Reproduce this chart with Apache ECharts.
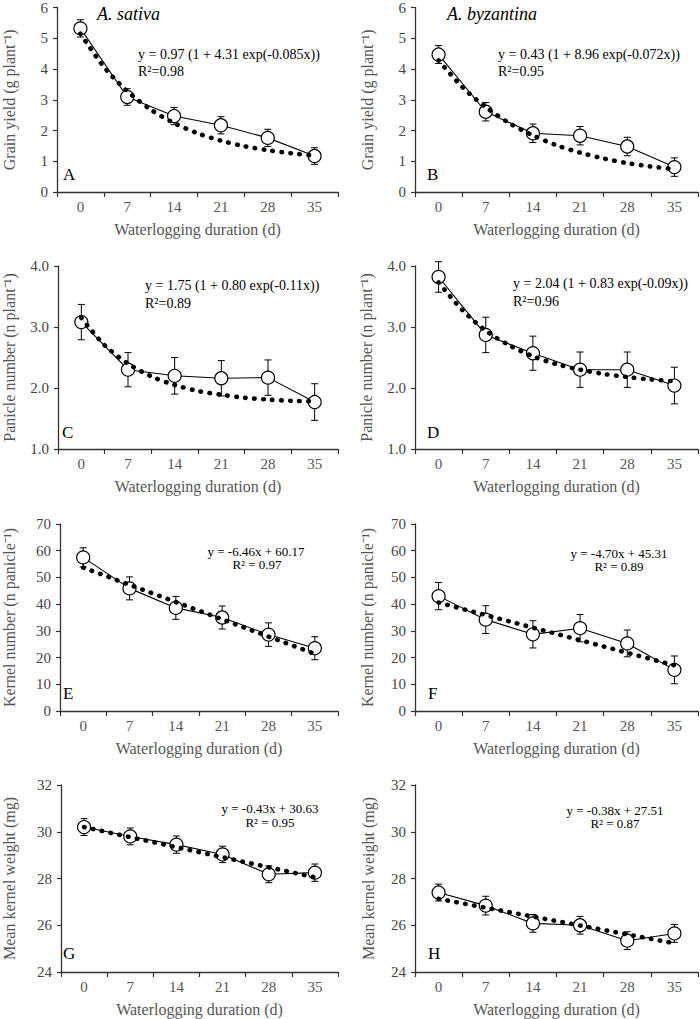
<!DOCTYPE html>
<html>
<head>
<meta charset="utf-8">
<script src="https://cdn.jsdelivr.net/npm/echarts@6/dist/echarts.min.js"></script>
<style>
html,body{margin:0;padding:0;background:#fff;}
#chart{width:700px;height:1019px;}
</style>
</head>
<body>
<div id="chart"></div>
<script>
// ---------- data ----------
const days = [0, 7, 14, 21, 28, 35];
const dayLabels = ['0', '7', '14', '21', '28', '35'];
const fitX = [0, 3.5, 7, 10.5, 14, 17.5, 21, 24.5, 28, 31.5, 35];
const linFitX = [0, 35];

const grainSativa = [5.32, 3.09, 2.47, 2.17, 1.76, 1.17];
const grainSativaErr = [0.28, 0.27, 0.28, 0.28, 0.28, 0.27];
const grainSativaFit = [5.15, 4.07, 3.28, 2.68, 2.24, 1.91, 1.67, 1.49, 1.36, 1.26, 1.18];

const grainByz = [4.47, 2.61, 1.91, 1.83, 1.48, 0.81];
const grainByzErr = [0.29, 0.30, 0.30, 0.30, 0.30, 0.30];
const grainByzFit = [4.28, 3.42, 2.76, 2.24, 1.84, 1.52, 1.28, 1.09, 0.94, 0.83, 0.74];

const panSativa = [3.08, 2.30, 2.20, 2.16, 2.17, 1.77];
const panSativaErr = [0.29, 0.28, 0.30, 0.29, 0.29, 0.30];
const panSativaFit = [3.15, 2.70, 2.40, 2.19, 2.05, 1.95, 1.89, 1.84, 1.81, 1.79, 1.78];

const panByz = [3.82, 2.87, 2.57, 2.30, 2.30, 2.04];
const panByzErr = [0.25, 0.29, 0.28, 0.29, 0.29, 0.30];
const panByzFit = [3.73, 3.28, 2.94, 2.70, 2.52, 2.39, 2.30, 2.23, 2.18, 2.14, 2.11];

const kernSativa = [57.5, 45.9, 38.6, 35.0, 28.6, 23.5];
const kernSativaErr = [3.6, 4.3, 4.3, 4.3, 4.4, 4.3];
const kernSativaFit = [53.7, 21.4];

const kernByz = [43.0, 34.2, 28.7, 31.0, 25.3, 15.4];
const kernByzErr = [5.1, 5.2, 5.1, 5.1, 5.0, 5.2];
const kernByzFit = [40.6, 17.1];

const weightSativa = [30.2, 29.8, 29.45, 29.03, 28.18, 28.25];
const weightSativaErr = [0.36, 0.36, 0.37, 0.35, 0.36, 0.37];
const weightSativaFit = [30.2, 28.05];

const weightByz = [27.4, 26.84, 26.08, 26.0, 25.34, 25.65];
const weightByzErr = [0.36, 0.40, 0.38, 0.38, 0.38, 0.38];
const weightByzFit = [27.13, 25.23];

const yNames = ['Grain yield (g plant\u207B\u00B9)', 'Panicle number (n plant\u207B\u00B9)',
                'Kernel number (n panicle\u207B\u00B9)', 'Mean kernel weight (mg)'];
const xName = 'Waterlogging duration (d)';

// ---------- layout ----------
const FONT = 'Liberation Serif';
const cols = [{left: 48, width: 290}, {left: 415, width: 283}];
const rows = [{top: 7, height: 185}, {top: 266, height: 183}, {top: 524, height: 187}, {top: 785, height: 187}];
const yRanges = [
  {min: 0, max: 6, interval: 1, fmt: v => String(v)},
  {min: 1, max: 4, interval: 1, fmt: v => v.toFixed(1)},
  {min: 0, max: 70, interval: 10, fmt: v => String(v)},
  {min: 24, max: 32, interval: 2, fmt: v => String(v)}
];
const yNameGaps = [[40, 40], [41, 41], [43, 40], [44, 39]];

const panels = [
  {r: 0, c: 0, m: grainSativa, e: grainSativaErr, fx: fitX, f: grainSativaFit},
  {r: 0, c: 1, m: grainByz, e: grainByzErr, fx: fitX, f: grainByzFit},
  {r: 1, c: 0, m: panSativa, e: panSativaErr, fx: fitX, f: panSativaFit},
  {r: 1, c: 1, m: panByz, e: panByzErr, fx: fitX, f: panByzFit},
  {r: 2, c: 0, m: kernSativa, e: kernSativaErr, fx: linFitX, f: kernSativaFit},
  {r: 2, c: 1, m: kernByz, e: kernByzErr, fx: linFitX, f: kernByzFit},
  {r: 3, c: 0, m: weightSativa, e: weightSativaErr, fx: linFitX, f: weightSativaFit},
  {r: 3, c: 1, m: weightByz, e: weightByzErr, fx: linFitX, f: weightByzFit}
];

const grid = [], xAxis = [], yAxis = [], series = [];
panels.forEach((p, i) => {
  const col = cols[p.c], row = rows[p.r], yr = yRanges[p.r];
  grid.push({left: col.left, top: row.top, width: col.width, height: row.height, containLabel: false});
  // visible category axis: ticks between categories, labels centered
  xAxis.push({
    type: 'category', gridIndex: i, data: dayLabels, boundaryGap: true, position: 'bottom',
    axisLine: {onZero: false, lineStyle: {color: '#333', width: 1.3}},
    axisTick: {show: true, length: 5, inside: false, lineStyle: {color: '#333', width: 1.2}},
    axisLabel: {color: '#555', fontFamily: FONT, fontSize: 15, margin: 7},
    name: xName, nameLocation: 'middle', nameGap: 29,
    nameTextStyle: {color: '#555', fontFamily: FONT, fontSize: 16},
    splitLine: {show: false}
  });
  // hidden value axis for the data (aligned with category centres)
  xAxis.push({
    type: 'value', gridIndex: i, min: -3.5, max: 38.5, show: false, position: 'bottom',
    axisLine: {onZero: false}, splitLine: {show: false}
  });
  yAxis.push({
    type: 'value', gridIndex: i, min: yr.min, max: yr.max, interval: yr.interval, position: 'left',
    axisLine: {show: true, onZero: false, lineStyle: {color: '#333', width: 1.3}},
    axisTick: {show: true, length: 4, lineStyle: {color: '#333', width: 1.2}},
    axisLabel: {color: '#444', fontFamily: FONT, fontSize: 15, margin: 9, formatter: yr.fmt},
    splitLine: {show: false},
    name: yNames[p.r], nameLocation: 'middle', nameGap: yNameGaps[p.r][p.c], nameRotate: 90,
    nameTextStyle: {color: '#555', fontFamily: FONT, fontSize: 16}
  });
  const xi = i * 2 + 1;
  series.push({
    type: 'custom', xAxisIndex: xi, yAxisIndex: i, z: 2,
    data: days.map((d, k) => [d, p.m[k], p.e[k]]),
    renderItem: function (params, api) {
      const x = api.value(0), y = api.value(1), e = api.value(2);
      const t = api.coord([x, y + e]), b = api.coord([x, y - e]);
      const w = 3.5, st = {stroke: '#000', lineWidth: 1};
      return {type: 'group', children: [
        {type: 'line', shape: {x1: t[0], y1: t[1], x2: b[0], y2: b[1]}, style: st},
        {type: 'line', shape: {x1: t[0] - w, y1: t[1], x2: t[0] + w, y2: t[1]}, style: st},
        {type: 'line', shape: {x1: b[0] - w, y1: b[1], x2: b[0] + w, y2: b[1]}, style: st}
      ]};
    }
  });
  series.push({
    type: 'line', xAxisIndex: xi, yAxisIndex: i, z: 3,
    data: days.map((d, k) => [d, p.m[k]]),
    symbol: 'circle', symbolSize: 13,
    itemStyle: {color: '#fff', borderColor: '#000', borderWidth: 1.2},
    lineStyle: {color: '#000', width: 1.1},
    animation: false
  });
  series.push({
    type: 'line', xAxisIndex: xi, yAxisIndex: i, z: 4,
    data: p.fx.map((d, k) => [d, p.f[k]]),
    symbol: 'none', smooth: p.fx.length > 2 ? 0.3 : false,
    lineStyle: {color: '#000', width: 4.6, type: [0.5, 8.5], cap: 'round'},
    animation: false
  });
});

function txt(x, y, text, opt) {
  return {
    type: 'text', x: x, y: y, z: 10,
    style: Object.assign({text: text, fill: '#000', font: '14px "Liberation Serif"',
      textAlign: 'left', textVerticalAlign: 'middle'}, opt || {})
  };
}
const graphic = [
  txt(97, 14, 'A. sativa', {font: 'italic 18px "Liberation Serif"'}),
  txt(447, 14, 'A. byzantina', {font: 'italic 18px "Liberation Serif"'}),
  txt(63, 174, 'A', {font: '17px "Liberation Serif"'}),
  txt(427, 174, 'B', {font: '17px "Liberation Serif"'}),
  txt(62, 432, 'C', {font: '17px "Liberation Serif"'}),
  txt(427, 432, 'D', {font: '17px "Liberation Serif"'}),
  txt(63, 693, 'E', {font: '17px "Liberation Serif"'}),
  txt(428, 693, 'F', {font: '17px "Liberation Serif"'}),
  txt(63, 953, 'G', {font: '17px "Liberation Serif"'}),
  txt(428, 953, 'H', {font: '17px "Liberation Serif"'}),
  txt(138, 54, 'y = 0.97 (1 + 4.31 exp(-0.085x))'),
  txt(138, 71, 'R\u00B2=0.98'),
  txt(498, 54, 'y = 0.43 (1 + 8.96 exp(-0.072x))'),
  txt(498, 71, 'R\u00B2=0.95'),
  txt(145, 285, 'y = 1.75 (1 + 0.80 exp(-0.11x))'),
  txt(145, 303, 'R\u00B2=0.89'),
  txt(513, 283, 'y = 2.04 (1 + 0.83 exp(-0.09x))'),
  txt(513, 301, 'R\u00B2=0.96'),
  txt(256, 551, 'y = -6.46x + 60.17', {textAlign: 'center', font: '13px "Liberation Serif"'}),
  txt(257, 564, 'R\u00B2 = 0.97', {textAlign: 'center', font: '13px "Liberation Serif"'}),
  txt(619, 553, 'y = -4.70x + 45.31', {textAlign: 'center', font: '13px "Liberation Serif"'}),
  txt(619, 566, 'R\u00B2 = 0.89', {textAlign: 'center', font: '13px "Liberation Serif"'}),
  txt(270, 808, 'y = -0.43x + 30.63', {textAlign: 'center', font: '13px "Liberation Serif"'}),
  txt(270, 822, 'R\u00B2 = 0.95', {textAlign: 'center', font: '13px "Liberation Serif"'}),
  txt(615, 810, 'y = -0.38x + 27.51', {textAlign: 'center', font: '13px "Liberation Serif"'}),
  txt(615, 823, 'R\u00B2 = 0.87', {textAlign: 'center', font: '13px "Liberation Serif"'})
];

const chart = echarts.init(document.getElementById('chart'), null, {renderer: 'svg'});
chart.setOption({
  backgroundColor: '#fff',
  animation: false,
  grid: grid, xAxis: xAxis, yAxis: yAxis, series: series, graphic: graphic
});
</script>
</body>
</html>
